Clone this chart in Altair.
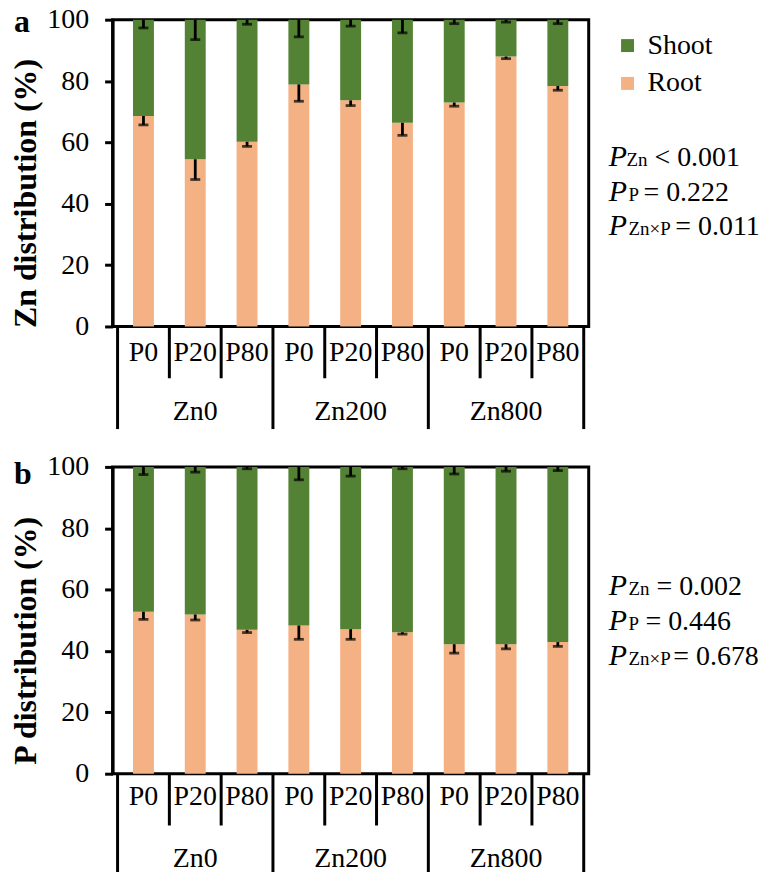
import altair as alt
import pandas as pd

FONT = "Liberation Serif"

zn_levels = ["Zn0", "Zn200", "Zn800"]
p_levels = ["P0", "P20", "P80"]
parts = ["Shoot", "Root"]
part_colors = ["#548235", "#F4B183"]
y_ticks = [0, 20, 40, 60, 80, 100]

# Panel a: Zn distribution (root share, %), error bars (SE) of root and shoot
zn_root = [68.6, 54.5, 60.2, 78.9, 73.7, 66.4, 73.0, 88.0, 78.4]
zn_root_err = [2.9, 6.6, 1.5, 5.5, 1.7, 4.1, 1.2, 0.7, 1.4]
zn_shoot_err = [2.7, 6.5, 1.5, 5.6, 2.1, 4.3, 1.3, 0.8, 1.3]

# Panel b: P distribution
p_root = [52.8, 51.9, 46.9, 48.3, 47.1, 46.1, 42.2, 42.2, 42.9]
p_root_err = [2.5, 1.8, 0.9, 4.5, 3.3, 0.6, 2.9, 1.5, 1.4]
p_shoot_err = [2.5, 1.7, 0.6, 4.2, 3.0, 0.6, 2.3, 1.4, 1.2]

stat_subs = ["Zn", "P", "Zn×P"]
zn_stat_rest = ["< 0.001", "= 0.222", "= 0.011"]
p_stat_rest = ["= 0.002", "= 0.446", "= 0.678"]

W, H = 478, 308


def make_panel(root, root_err, shoot_err, ytitle, letter, letter_y,
               stat_rest, stat_y, rest_x, p_x, sub_x, plab_dy, legend):
    n = len(root)
    bar_rows, err_rows = [], []
    for i in range(n):
        pos = i + 0.5
        bar_rows.append(dict(pos=pos, part="Root", y0=0, y1=root[i]))
        bar_rows.append(dict(pos=pos, part="Shoot", y0=root[i], y1=100))
        err_rows.append(dict(pos=pos, top=root[i], bot=root[i] - root_err[i]))
        err_rows.append(dict(pos=pos, top=100, bot=100 - shoot_err[i]))
    bar_df = pd.DataFrame(bar_rows)
    err_df = pd.DataFrame(err_rows)
    div_df = pd.DataFrame({"pos": list(range(n + 1)),
                           "kind": ["long" if k % 3 == 0 else "short" for k in range(n + 1)]})
    plab_df = pd.DataFrame({"pos": [i + 0.5 for i in range(n)],
                            "label": [p_levels[i % 3] for i in range(n)]})
    znlab_df = pd.DataFrame({"pos": [3 * j + 1.5 for j in range(3)], "label": zn_levels})
    stat_df = pd.DataFrame({"sub": stat_subs, "rest": stat_rest, "py": stat_y,
                            "rx": rest_x, "px": [p_x] * 3, "sx": sub_x,
                            "P": ["P"] * 3})

    xs = alt.Scale(domain=[0, 9], nice=False, zero=False)
    ys = alt.Scale(domain=[0, 100], nice=False)
    yaxis = alt.Axis(values=y_ticks, title=ytitle, titleFont=FONT, titleFontSize=32,
                     titleFontWeight="bold", titleColor="black", titleAngle=270,
                     titleX=-87, titleY=H / 2 + 20, titleAlign="center",
                     titleBaseline="middle", labelFont=FONT, labelFontSize=28,
                     labelColor="black", labelPadding=16, tickSize=8, tickWidth=3,
                     tickColor="black", domainColor="black", domainWidth=3, grid=False)
    X = alt.X("pos:Q", scale=xs, axis=None)

    bars = alt.Chart(bar_df).mark_bar(size=21).encode(
        x=X,
        y=alt.Y("y0:Q", scale=ys, axis=yaxis),
        y2="y1:Q",
        color=alt.Color("part:N", scale=alt.Scale(domain=parts, range=part_colors),
                        legend=legend),
    )
    rules = alt.Chart(err_df).mark_rule(strokeWidth=2.8, color="black").encode(
        x=X, y=alt.Y("top:Q", scale=ys, axis=yaxis), y2="bot:Q")
    caps = alt.Chart(err_df).mark_tick(orient="horizontal", size=10, thickness=2.8,
                                       color="black").encode(
        x=X, y=alt.Y("bot:Q", scale=ys, axis=yaxis))
    div_short = alt.Chart(div_df).transform_filter("datum.kind == 'short'").mark_rule(
        strokeWidth=3, color="black").encode(x=X, y=alt.value(H), y2=alt.value(H + 52))
    div_long = alt.Chart(div_df).transform_filter("datum.kind == 'long'").mark_rule(
        strokeWidth=3, color="black").encode(x=X, y=alt.value(H), y2=alt.value(H + 103))
    plabs = alt.Chart(plab_df).mark_text(font=FONT, fontSize=28, color="black",
                                         align="center", baseline="middle").encode(
        x=X, y=alt.value(H + plab_dy), text="label:N")
    znlabs = alt.Chart(znlab_df).mark_text(font=FONT, fontSize=28, color="black",
                                           align="center", baseline="middle").encode(
        x=X, y=alt.value(H + 86), text="label:N")
    letter_mark = alt.Chart(pd.DataFrame({"t": [letter]})).mark_text(
        font=FONT, fontSize=32, fontWeight="bold", color="black", align="left",
        baseline="alphabetic").encode(x=alt.value(-99), y=alt.value(letter_y), text="t:N")
    stat_p = alt.Chart(stat_df).mark_text(font=FONT, fontSize=30, fontStyle="italic",
                                          color="black", align="left",
                                          baseline="alphabetic").encode(
        x=alt.X("px:Q", scale=None), y=alt.Y("py:Q", scale=None), text="P:N")
    stat_sub = alt.Chart(stat_df).mark_text(font=FONT, fontSize=19, color="black",
                                            align="left", baseline="alphabetic").encode(
        x=alt.X("sx:Q", scale=None), y=alt.Y("py:Q", scale=None), text="sub:N")
    stat_rest_m = alt.Chart(stat_df).mark_text(font=FONT, fontSize=28, color="black",
                                               align="left", baseline="alphabetic").encode(
        x=alt.X("rx:Q", scale=None), y=alt.Y("py:Q", scale=None), text="rest:N")

    return alt.layer(bars, rules, caps, div_short, div_long, plabs, znlabs,
                     letter_mark, stat_p, stat_sub, stat_rest_m).properties(width=W, height=H)


legend_a = alt.Legend(orient="none", legendX=503, legendY=12, title=None, direction="vertical",
                      labelFont=FONT, labelFontSize=28, labelColor="black",
                      symbolType="square", symbolSize=169, symbolStrokeWidth=0,
                      labelOffset=6, rowPadding=10, padding=0)

panel_a = make_panel(zn_root, zn_root_err, zn_shoot_err, "Zn distribution (%)", "a", 12,
                     zn_stat_rest, [147, 182, 216], [544, 533, 565], 498, [516, 518, 518],
                     27, legend_a)
panel_b = make_panel(p_root, p_root_err, p_shoot_err, "P distribution (%)", "b", 17,
                     p_stat_rest, [129, 164, 199], [546, 535, 563], 498, [518, 518, 518],
                     23, None)

chart = alt.vconcat(panel_a, panel_b, spacing=19).resolve_scale(
    color="independent").properties(
    padding={"top": -6, "left": 0, "right": 5, "bottom": 0}
).configure(font=FONT).configure_view(stroke="black", strokeWidth=3)

chart.save("out.html", embed_options={"renderer": "svg", "actions": False})
